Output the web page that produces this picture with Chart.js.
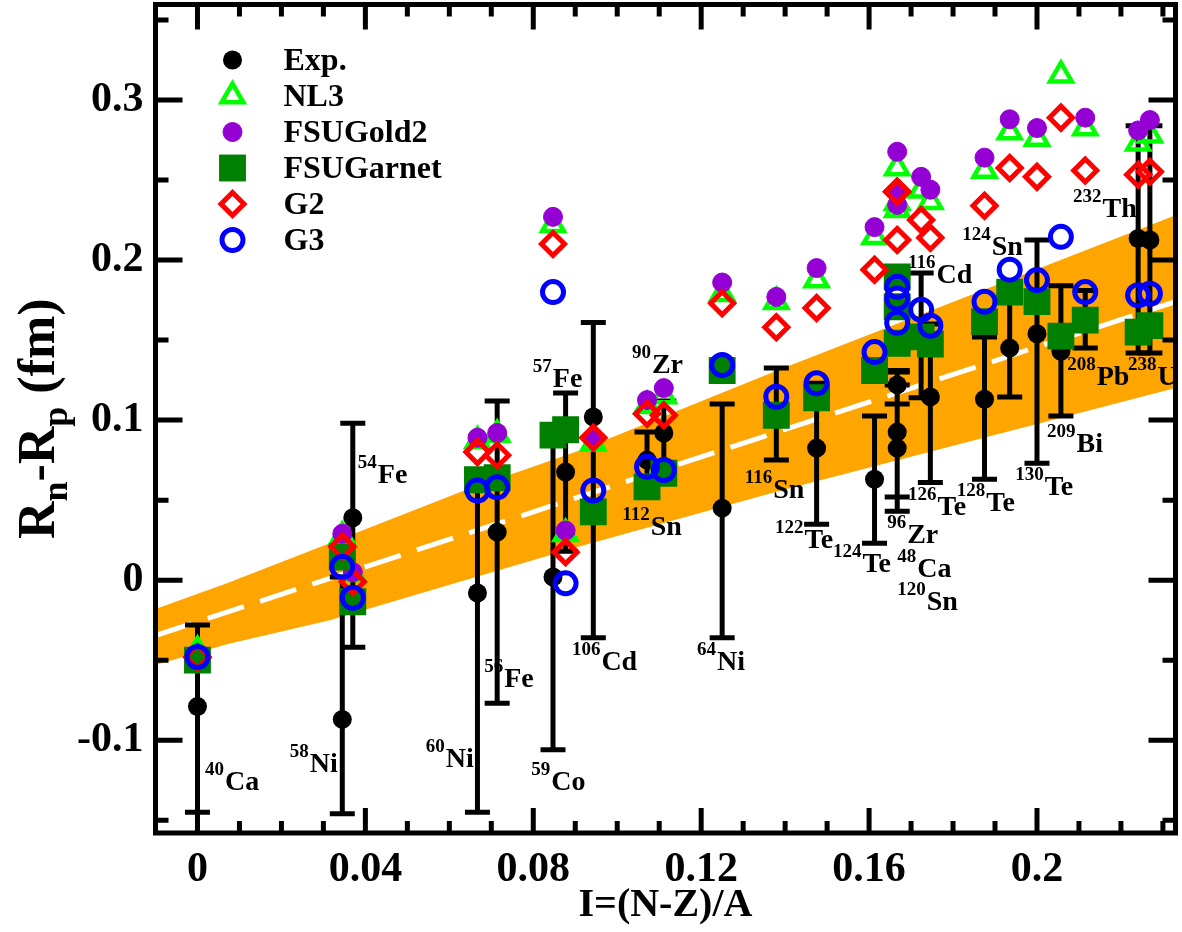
<!DOCTYPE html>
<html><head><meta charset="utf-8">
<script src="https://cdn.jsdelivr.net/npm/chart.js@4/dist/chart.umd.min.js"></script>
<style>html,body{margin:0;padding:0;background:#fff;}#wrap{width:1182px;height:932px;}</style>
</head><body><div id="wrap"><canvas id="c" width="1182" height="932"></canvas></div>
<script>
// ---------------- data ----------------
const nuclei = ['40Ca','58Ni','54Fe','60Ni','56Fe','59Co','57Fe','106Cd','112Sn','90Zr','64Ni','116Sn','122Te','124Te','48Ca','96Zr','120Sn','116Cd','126Te','128Te','124Sn','130Te','209Bi','208Pb','232Th','238U'];
const isospinI = [0, 0.0345, 0.0370, 0.0667, 0.0714, 0.0847, 0.0877, 0.0943, 0.1071, 0.1111, 0.125, 0.1379, 0.1475, 0.1613, 0.1667, 0.1667, 0.1667, 0.1724, 0.1746, 0.1875, 0.1935, 0.2, 0.2057, 0.2115, 0.2241, 0.2269];
const expSkin = [-0.079,-0.087,0.039,-0.008,0.030,0.002,0.0675,0.102,0.075,0.092,0.045,0.103,0.0825,0.063,0.122,0.0825,0.0925,0.153,0.1145,0.113,0.145,0.154,0.143,0.163,0.2135,0.2125];
const expLow  = [-0.145,-0.146,-0.042,-0.145,-0.077,-0.106,0.018,-0.036,0.058,0.072,-0.036,0.075,0.035,0.023,0.110,0.043,0.052,0.114,0.061,0.063,0.1145,0.073,0.1025,0.145,0.142,0.142];
const expHigh = [-0.028,0.002,0.098,0.062,0.112,0.090,0.117,0.161,0.0925,0.112,0.110,0.1325,0.123,0.1025,0.130,0.122,0.131,0.192,0.160,0.152,0.176,0.2125,0.184,0.181,0.284,0.284];
const nl3       = [-0.044,0.0275,0.004,0.087,0.091,0.222,0.029,0.0855,0.109,0.115,0.179,0.174,0.1875,0.2145,0.2575,0.236,0.2315,0.2437,0.2365,0.256,0.280,0.276,0.3155,0.2825,0.273,0.278];
const fsuGold2  = [-0.048,0.029,0.005,0.089,0.092,0.227,0.031,0.089,0.1125,0.120,0.186,0.177,0.195,0.2206,0.2677,0.2345,0.2427,0.252,0.244,0.264,0.288,0.2825,null,0.289,0.281,0.2875];
const fsuGarnet = [-0.050,0.0145,-0.0135,0.0627,0.064,0.0906,0.094,0.0427,0.0583,0.0668,0.131,0.103,0.114,0.131,0.1895,0.1708,0.148,0.152,0.1475,0.1615,0.180,0.174,0.1525,0.1625,0.155,0.159];
const g2        = [-0.048,0.021,-0.001,0.080,0.078,0.210,0.0175,0.089,0.104,0.103,0.173,0.158,0.170,0.194,0.2427,0.2125,0.2427,0.225,0.214,0.234,0.2575,0.252,0.289,0.256,0.2533,0.2552];
const g3        = [-0.048,0.0083,-0.011,0.056,0.058,0.180,-0.002,0.056,0.0708,0.0688,0.1344,0.1146,0.123,0.1425,0.1833,0.176,0.1608,0.169,0.159,0.174,0.194,0.1875,0.2145,0.180,0.178,0.179];
// linear fit and its band
const bandX     = [-0.01, 0.007, 0.0315, 0.0625, 0.091, 0.139, 0.233];
const bandUpper = [-0.018, -0.002, 0.023, 0.055, 0.081, 0.132, 0.228];
const bandLower = [-0.053, -0.040, -0.025, -0.001, 0.021, 0.056, 0.120];
const fitX = [-0.01, 0.233];
const fitY = [-0.0346, 0.174];
// axis ticks
const xTickValues = Array.from({length: 24}, (_, k) => k / 100);
const xTickLabels = ['0', '0.04', '0.08', '0.12', '0.16', '0.2'];
const yTickValues = Array.from({length: 11}, (_, k) => (k - 3) * 0.05);
const yTickLabels = ['-0.1', '0', '0.1', '0.2', '0.3'];
// nucleus annotations (anchor in data coords: left edge, baseline)
const nucleusLabels = [
  {n:'40Ca', x:0.0018, y:-0.1311}, {n:'58Ni', x:0.0220, y:-0.1198}, {n:'54Fe', x:0.0382, y:0.0608},
  {n:'60Ni', x:0.0544, y:-0.1167}, {n:'56Fe', x:0.0683, y:-0.0667}, {n:'57Fe', x:0.0799, y:0.1209},
  {n:'59Co', x:0.0795, y:-0.1311}, {n:'106Cd', x:0.0892, y:-0.0561}, {n:'90Zr', x:0.1035, y:0.1296},
  {n:'112Sn', x:0.1012, y:0.0283}, {n:'64Ni', x:0.1190, y:-0.0561}, {n:'116Sn', x:0.1304, y:0.0515},
  {n:'122Te', x:0.1376, y:0.0202}, {n:'124Te', x:0.1514, y:0.0052}, {n:'96Zr', x:0.1643, y:0.0233},
  {n:'48Ca', x:0.1667, y:0.0021}, {n:'120Sn', x:0.1667, y:-0.0186}, {n:'126Te', x:0.1693, y:0.0408},
  {n:'128Te', x:0.1809, y:0.0433}, {n:'130Te', x:0.1948, y:0.0533}, {n:'209Bi', x:0.2024, y:0.0802},
  {n:'116Cd', x:0.1693, y:0.1859}, {n:'124Sn', x:0.1822, y:0.2034}, {n:'232Th', x:0.2086, y:0.2272},
  {n:'208Pb', x:0.2072, y:0.1221}, {n:'238U', x:0.2217, y:0.1221}
];

// ---------------- build ----------------
const SERIF = '"Liberation Serif", "Times New Roman", serif';
const pts = (ys) => isospinI.map((x, i) => ({x, y: ys[i]})).filter(p => p.y !== null);
const zip = (xs, ys) => xs.map((x, i) => ({x, y: ys[i]}));
const barData = [];
isospinI.forEach((x, i) => { barData.push({x, y: expLow[i]}, {x, y: expHigh[i]}, {x, y: null}); });
const capData = [];
isospinI.forEach((x, i) => { capData.push({x, y: expLow[i]}, {x, y: expHigh[i]}); });

const datasets = [
  {label:'band', type:'line', data: zip(bandX, bandUpper), borderWidth:0, pointRadius:0, fill:'+1', backgroundColor:'#ffa500', borderColor:'#ffa500', order:30, tension:0},
  {label:'bandLow', type:'line', data: zip(bandX, bandLower), borderWidth:0, pointRadius:0, fill:false, borderColor:'#ffa500', order:29, tension:0},
  {label:'fit', type:'line', data: zip(fitX, fitY), borderWidth:5, borderColor:'#ffffff', borderDash:[38,17], pointRadius:0, fill:false, order:28},
  {label:'errbar', type:'line', data: barData, borderWidth:5, borderColor:'#000', pointRadius:0, spanGaps:false, fill:false, order:27},
  {label:'errcap', type:'scatter', data: capData, pointStyle:'line', pointRadius:12.5, pointBorderWidth:5, borderColor:'#000', order:26},
  {label:'Exp.', type:'scatter', data: pts(expSkin), pointStyle:'circle', pointRadius:9.5, pointBorderWidth:0, backgroundColor:'#000', borderColor:'#000', order:16},
  {label:'NL3', type:'scatter', data: pts(nl3), pointStyle:'triangle', pointRadius:12.5, pointBorderWidth:4.5, backgroundColor:'rgba(0,0,0,0)', borderColor:'#00ff00', order:15},
  {label:'FSUGold2', type:'scatter', data: pts(fsuGold2), pointStyle:'circle', pointRadius:9.5, pointBorderWidth:1, backgroundColor:'#9400d3', borderColor:'#9400d3', order:14},
  {label:'FSUGarnet', type:'scatter', data: pts(fsuGarnet), pointStyle:'rect', pointRadius:19, pointBorderWidth:0, backgroundColor:'#008000', borderColor:'#008000', order:13},
  {label:'G2', type:'scatter', data: pts(g2), pointStyle:'rectRot', pointRadius:11.5, pointBorderWidth:5, backgroundColor:'rgba(0,0,0,0)', borderColor:'#ff0000', order:12},
  {label:'G3', type:'scatter', data: pts(g3), pointStyle:'circle', pointRadius:10.5, pointBorderWidth:5, backgroundColor:'rgba(0,0,0,0)', borderColor:'#0000ff', order:11}
];

const zeroPad = s => { s.paddingTop = 0; s.paddingBottom = 0; s.paddingLeft = 0; s.paddingRight = 0; };

const decor = {
  id: 'decor',
  afterDatasetsDraw(chart) {
    const {ctx, scales: {x, y}} = chart;
    ctx.save();
    ctx.fillStyle = '#000';
    ctx.textAlign = 'left';
    ctx.textBaseline = 'alphabetic';
    nucleusLabels.forEach(l => {
      const m = l.n.match(/^(\d+)(\D+)$/);
      const px = x.getPixelForValue(l.x), py = y.getPixelForValue(l.y);
      ctx.font = 'bold 19px ' + SERIF;
      ctx.fillText(m[1], px, py - 15);
      const w = ctx.measureText(m[1]).width;
      ctx.font = 'bold 28px ' + SERIF;
      ctx.fillText(m[2], px + w + 1, py);
    });
    ctx.restore();
  },
  afterDraw(chart) {
    const {ctx, chartArea: a, scales: {x, y}} = chart;
    ctx.save();
    // inward ticks
    ctx.strokeStyle = '#000';
    ctx.lineWidth = 5;
    ctx.beginPath();
    xTickValues.forEach((v, k) => {
      const px = x.getPixelForValue(v);
      const len = (k % 4 === 0) ? 25 : 12;
      ctx.moveTo(px, a.bottom); ctx.lineTo(px, a.bottom - len);
      ctx.moveTo(px, a.top); ctx.lineTo(px, a.top + len);
    });
    yTickValues.forEach((v, k) => {
      const py = y.getPixelForValue(v);
      const len = (k % 2 === 1) ? 27 : 13;
      ctx.moveTo(a.left, py); ctx.lineTo(a.left + len, py);
      ctx.moveTo(a.right, py); ctx.lineTo(a.right - len, py);
    });
    ctx.stroke();
    // frame
    ctx.lineWidth = 5;
    ctx.strokeRect(a.left, a.top, a.right - a.left, a.bottom - a.top);
    // legend
    const legendSets = chart.data.datasets.filter(d => ['Exp.','NL3','FSUGold2','FSUGarnet','G2','G3'].includes(d.label));
    legendSets.forEach((d, i) => {
      const cx = a.left + 77, cy = a.top + 55.5 + i * 36;
      ctx.fillStyle = d.backgroundColor;
      ctx.strokeStyle = d.borderColor;
      ctx.lineWidth = d.pointBorderWidth;
      Chart.helpers.drawPoint(ctx, {pointStyle: d.pointStyle, rotation: 0, radius: d.pointRadius, borderWidth: d.pointBorderWidth}, cx, cy);
      ctx.fillStyle = '#000';
      ctx.font = 'bold 32px ' + SERIF;
      ctx.textAlign = 'left';
      ctx.textBaseline = 'middle';
      ctx.fillText(d.label, a.left + 128, cy + 2);
    });
    // y-axis title with subscripts
    ctx.translate(54, (a.top + a.bottom) / 2);
    ctx.rotate(-Math.PI / 2);
    const big = 'bold 52px ' + SERIF, small = 'bold 36px ' + SERIF;
    const parts = [['R', big, 0], ['n', small, 13], ['-R', big, 0], ['p', small, 13], [' (fm)', big, 0]];
    let total = 0;
    parts.forEach(p => { ctx.font = p[1]; total += ctx.measureText(p[0]).width; });
    let pos = -total / 2;
    ctx.fillStyle = '#000';
    ctx.textAlign = 'left';
    ctx.textBaseline = 'alphabetic';
    parts.forEach(p => { ctx.font = p[1]; ctx.fillText(p[0], pos, p[2]); pos += ctx.measureText(p[0]).width; });
    ctx.restore();
  }
};

new Chart(document.getElementById('c'), {
  type: 'scatter',
  data: { datasets },
  options: {
    responsive: false,
    animation: false,
    events: [],
    layout: { autoPadding: false, padding: { top: 4.5, right: 6.5, left: 0, bottom: 0 } },
    plugins: { legend: { display: false }, tooltip: { enabled: false } },
    scales: {
      x: {
        type: 'linear', position: 'bottom', min: -0.01, max: 0.233,
        afterBuildTicks: s => { s.ticks = xTickValues.map(v => ({value: v})); },
        afterFit: s => { s.height = 932 - 833; zeroPad(s); },
        ticks: {
          autoSkip: false, maxRotation: 0, minRotation: 0, padding: 12, color: '#000',
          font: { family: SERIF, size: 42, weight: 'bold' },
          callback: (v) => { const k = Math.round(v * 100); return (k % 4 === 0 && k / 4 < xTickLabels.length) ? xTickLabels[k / 4] : null; }
        },
        grid: { display: false, drawTicks: false },
        border: { display: false },
        title: { display: true, text: 'I=(N-Z)/A', color: '#000', font: { family: SERIF, size: 40, weight: 'bold' }, padding: { top: 0, bottom: 2 } }
      },
      y: {
        type: 'linear', min: -0.158, max: 0.3597,
        afterBuildTicks: s => { s.ticks = yTickValues.map(v => ({value: v})); },
        afterFit: s => { s.width = 155.5; zeroPad(s); },
        ticks: {
          padding: 12, color: '#000',
          font: { family: SERIF, size: 42, weight: 'bold' },
          callback: (v) => { const k = Math.round(v * 20); return (k % 2 === 0) ? yTickLabels[k / 2 + 1] : null; }
        },
        grid: { display: false, drawTicks: false },
        border: { display: false }
      }
    }
  },
  plugins: [decor]
});
</script></body></html>
